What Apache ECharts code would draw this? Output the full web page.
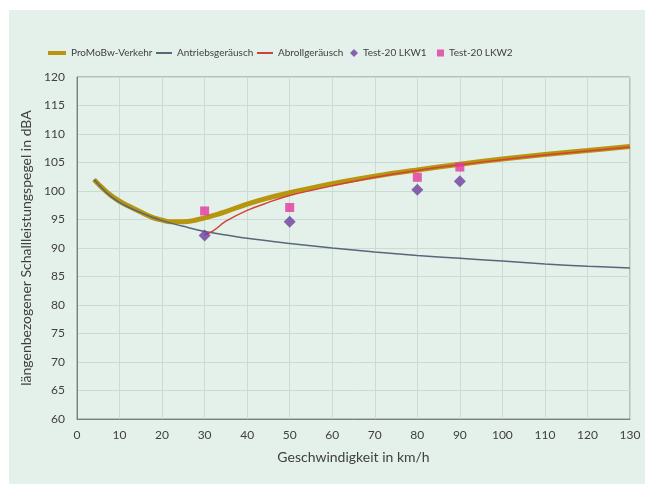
<!DOCTYPE html>
<html><head><meta charset="utf-8">
<script src="https://cdn.jsdelivr.net/npm/echarts@6/dist/echarts.min.js"></script>
<style>html,body{margin:0;padding:0;background:#fff}#c{width:645px;height:484px}</style>
</head><body><div id="c"></div>
<script>
const xTicks = [0,10,20,30,40,50,60,70,80,90,100,110,120,130];
const yTicks = [60,65,70,75,80,85,90,95,100,105,110,115,120];
const promoX = [4,6,8,10,12,15,18,20,22,25,28,30,33,35,40,45,50,60,70,80,90,100,110,120,130];
const promoY = [102,100.5,99.2,98.2,97.4,96.3,95.3,94.9,94.6,94.6,94.9,95.3,95.9,96.4,97.7,98.8,99.7,101.3,102.6,103.7,104.7,105.6,106.4,107.1,107.8];
const antriebX = [4,6,8,10,12,15,18,20,25,30,35,40,50,60,70,80,90,100,110,120,130];
const antriebY = [102,100.4,99.0,98.0,97.2,96.2,95.3,94.8,93.8,92.9,92.3,91.7,90.8,90.0,89.3,88.7,88.2,87.7,87.2,86.8,86.5];
const abrollX = [30,32,35,40,45,50,60,70,80,90,100,110,120,130];
const abrollY = [92.3,93.0,94.7,96.6,98.0,99.2,100.9,102.4,103.6,104.6,105.5,106.3,107.0,107.7];
const lkw1X = [30,50,80,90];
const lkw1Y = [92.2,94.6,100.2,101.7];
const lkw2X = [30,50,80,90];
const lkw2Y = [96.5,97.1,102.4,104.2];
const names = ['ProMoBw-Verkehr','Antriebsgeräusch','Abrollgeräusch','Test-20 LKW1','Test-20 LKW2'];

const zip = (a,b) => a.map((v,i)=>[v,b[i]]);
const font = 'Lato, "Open Sans", sans-serif';
const txt = '#404040';
const legendBase = {top: 48, padding: 0, itemGap: 4, textStyle:{fontFamily:font, fontSize:10, color:txt}};
const chart = echarts.init(document.getElementById('c'));
chart.setOption({
  backgroundColor: 'transparent',
  animation: false,
  graphic: [{type:'rect', z:-10, shape:{x:9,y:10,width:636,height:474}, style:{fill:'#e4f1ea'}}],
  legend: [
    Object.assign({}, legendBase, {left: 48, data:[{name:names[0], icon:'rect'}], itemWidth:18, itemHeight:4}),
    Object.assign({}, legendBase, {left: 156, data:[{name:names[1], icon:'rect'}], itemWidth:16, itemHeight:2}),
    Object.assign({}, legendBase, {left: 257, data:[{name:names[2], icon:'rect'}], itemWidth:16, itemHeight:2}),
    Object.assign({}, legendBase, {left: 350, data:[{name:names[3], icon:'diamond'}], itemWidth:8, itemHeight:8}),
    Object.assign({}, legendBase, {left: 437, data:[{name:names[4], icon:'rect'}], itemWidth:7, itemHeight:7})
  ],
  grid: {left:77, right:15, top:77, bottom:65, show:true, borderColor:'#8a8f8c', borderWidth:1, backgroundColor:'transparent'},
  xAxis: {
    type:'value', min:0, max:130, interval:10,
    name:'Geschwindigkeit in km/h', nameLocation:'middle', nameGap:31,
    nameTextStyle:{fontFamily:font, fontSize:14, color:txt},
    axisLine:{show:true, lineStyle:{color:'#7a7f7c'}}, axisTick:{show:false},
    axisLabel:{fontFamily:font, fontSize:12, color:txt, margin:10, formatter: v => xTicks.includes(v) ? String(v) : ''},
    splitLine:{show:true, lineStyle:{color:'#cbdad2', width:1}}
  },
  yAxis: {
    type:'value', min:60, max:120, interval:5,
    name:'längenbezogener Schallleistungspegel in dBA', nameLocation:'middle', nameGap:36, nameRotate:90,
    nameTextStyle:{fontFamily:font, fontSize:14, color:txt},
    axisLine:{show:true, lineStyle:{color:'#7a7f7c'}}, axisTick:{show:false},
    axisLabel:{fontFamily:font, fontSize:12, color:txt, margin:12, formatter: v => yTicks.includes(v) ? String(v) : ''},
    splitLine:{show:true, lineStyle:{color:'#cbdad2', width:1}}
  },
  series: [
    {name:names[0], type:'line', data:zip(promoX,promoY), smooth:0.4, showSymbol:false, lineStyle:{color:'#b8950f', width:5}, itemStyle:{color:'#b8950f'}, z:2},
    {name:names[1], type:'line', data:zip(antriebX,antriebY), smooth:0.4, showSymbol:false, lineStyle:{color:'#56677a', width:1.5}, itemStyle:{color:'#56677a'}, z:3},
    {name:names[2], type:'line', data:zip(abrollX,abrollY), smooth:0.4, showSymbol:false, lineStyle:{color:'#d2413a', width:1.5}, itemStyle:{color:'#d2413a'}, z:4},
    {name:names[3], type:'scatter', data:zip(lkw1X,lkw1Y), symbol:'diamond', symbolSize:12, itemStyle:{color:'#6e3f9e'}, z:5},
    {name:names[4], type:'scatter', data:zip(lkw2X,lkw2Y), symbol:'rect', symbolSize:9, itemStyle:{color:'#e2379d'}, z:5}
  ]
});
</script></body></html>
